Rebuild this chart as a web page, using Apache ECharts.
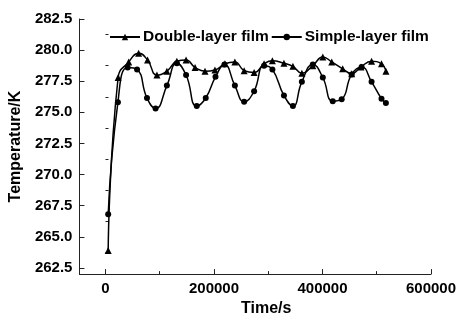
<!DOCTYPE html>
<html>
<head>
<meta charset="utf-8">
<script src="https://cdn.jsdelivr.net/npm/echarts@6/dist/echarts.min.js"></script>
<style>
  html, body { margin: 0; padding: 0; background: #fff; }
  #chart { width: 459px; height: 322px; }
</style>
</head>
<body>
<div id="chart"></div>
<script>
// time (s) and temperature (K)
const timeDouble = [5000, 23300, 42800, 61100, 77600, 94900, 113200, 131600, 148600, 165100,
  183500, 201800, 220200, 238500, 255600, 274000, 292300, 307700, 329000, 345500,
  362000, 382200, 400600, 417100, 437300, 453800, 471000, 490500, 508800, 517000]
const tempDouble = [263.9, 277.8, 279.05, 279.75, 279.2, 278.0, 278.3, 279.1, 279.2, 278.6,
  278.3, 278.4, 278.9, 279.05, 278.35, 278.2, 278.9, 279.15, 278.95, 278.7,
  278.15, 278.75, 279.45, 279.05, 278.5, 278.1, 278.65, 279.1, 278.9, 278.3]

const timeSimple = [5000, 22900, 40900, 58200, 76500, 92300, 113200, 131600, 148600, 168300,
  184800, 202800, 219300, 238500, 255600, 274000, 292300, 307700, 329000, 345500,
  362000, 382200, 400600, 418900, 435400, 453800, 472100, 490500, 508800, 516900]
const tempSimple = [266.8, 275.8, 278.6, 278.45, 276.15, 275.3, 277.15, 278.95, 278.0, 275.5,
  276.15, 277.85, 278.85, 277.15, 275.85, 276.7, 278.75, 278.45, 276.35, 275.5,
  277.45, 278.85, 277.8, 275.9, 276.05, 278.05, 278.65, 277.45, 276.1, 275.75]

const xMajor = [0, 200000, 400000, 600000]
const xMinor = [100000, 300000, 500000]
const yMajor = [262.5, 265.0, 267.5, 270.0, 272.5, 275.0, 277.5, 280.0, 282.5]
const yMinor = [263.75, 266.25, 268.75, 271.25, 273.75, 276.25, 278.75, 281.25]

const seriesNames = ['Double-layer film', 'Simple-layer film']

const zip = (xs, ys) => xs.map((x, i) => [x, ys[i]])

const font = 'Liberation Sans, Arial, sans-serif'
const xRange = { min: -48000, max: 600000 }
const yRange = { min: 262, max: 282.5 }

const chart = echarts.init(document.getElementById('chart'), null, { renderer: 'canvas' })

const option = {
  animation: false,
  backgroundColor: '#fff',
  textStyle: { fontFamily: font },
  grid: { left: 79, right: 27, top: 19, bottom: 41, containLabel: false },
  legend: {
    data: seriesNames,
    left: 104,
    top: 24,
    itemWidth: 30,
    itemHeight: 8,
    itemGap: 2,
    textStyle: { fontFamily: font, fontSize: 15.5, fontWeight: 'bold', color: '#000', padding: [0, 0, 0, -2] },
  },
  xAxis: [
    {
      type: 'value',
      ...xRange,
      name: 'Time/s',
      nameLocation: 'middle',
      nameGap: 26,
      nameTextStyle: { fontFamily: font, fontSize: 16, fontWeight: 'bold', color: '#000', padding: [0, 0, 0, 22] },
      axisLine: { show: true, onZero: false, lineStyle: { color: '#222', width: 1 } },
      axisTick: { show: true, inside: true, length: 5, customValues: xMajor, lineStyle: { color: '#222' } },
      axisLabel: {
        customValues: xMajor,
        margin: 7,
        fontFamily: font, fontSize: 15, fontWeight: 'bold', color: '#000',
        formatter: (v) => String(v),
      },
      splitLine: { show: false },
    },
    {
      type: 'value',
      ...xRange,
      position: 'bottom',
      axisLine: { show: false },
      axisTick: { show: true, inside: true, length: 3, customValues: xMinor, lineStyle: { color: '#222' } },
      axisLabel: { show: false },
      splitLine: { show: false },
    },
  ],
  yAxis: [
    {
      type: 'value',
      ...yRange,
      name: 'Temperature/K',
      nameLocation: 'middle',
      nameGap: 51,
      nameTextStyle: { fontFamily: font, fontSize: 16, fontWeight: 'bold', color: '#000' },
      axisLine: { show: true, onZero: false, lineStyle: { color: '#222', width: 1 } },
      axisTick: { show: true, inside: true, length: 5, customValues: yMajor, lineStyle: { color: '#222' } },
      axisLabel: {
        customValues: yMajor,
        margin: 7,
        fontFamily: font, fontSize: 15, fontWeight: 'bold', color: '#000',
        formatter: (v) => v.toFixed(1),
      },
      splitLine: { show: false },
    },
    {
      type: 'value',
      ...yRange,
      position: 'left',
      axisLine: { show: false },
      axisTick: { show: true, inside: true, length: 3, customValues: yMinor, lineStyle: { color: '#222' } },
      axisLabel: { show: false },
      splitLine: { show: false },
    },
  ],
  series: [
    {
      name: seriesNames[0],
      type: 'line',
      data: zip(timeDouble, tempDouble),
      smooth: 0.5,
      symbol: 'triangle',
      symbolSize: 7,
      lineStyle: { color: '#000', width: 1.5 },
      itemStyle: { color: '#000' },
    },
    {
      name: seriesNames[1],
      type: 'line',
      data: zip(timeSimple, tempSimple),
      smooth: 0.5,
      symbol: 'circle',
      symbolSize: 6,
      lineStyle: { color: '#000', width: 1.5 },
      itemStyle: { color: '#000' },
    },
  ],
}

chart.setOption(option)
</script>
</body>
</html>
